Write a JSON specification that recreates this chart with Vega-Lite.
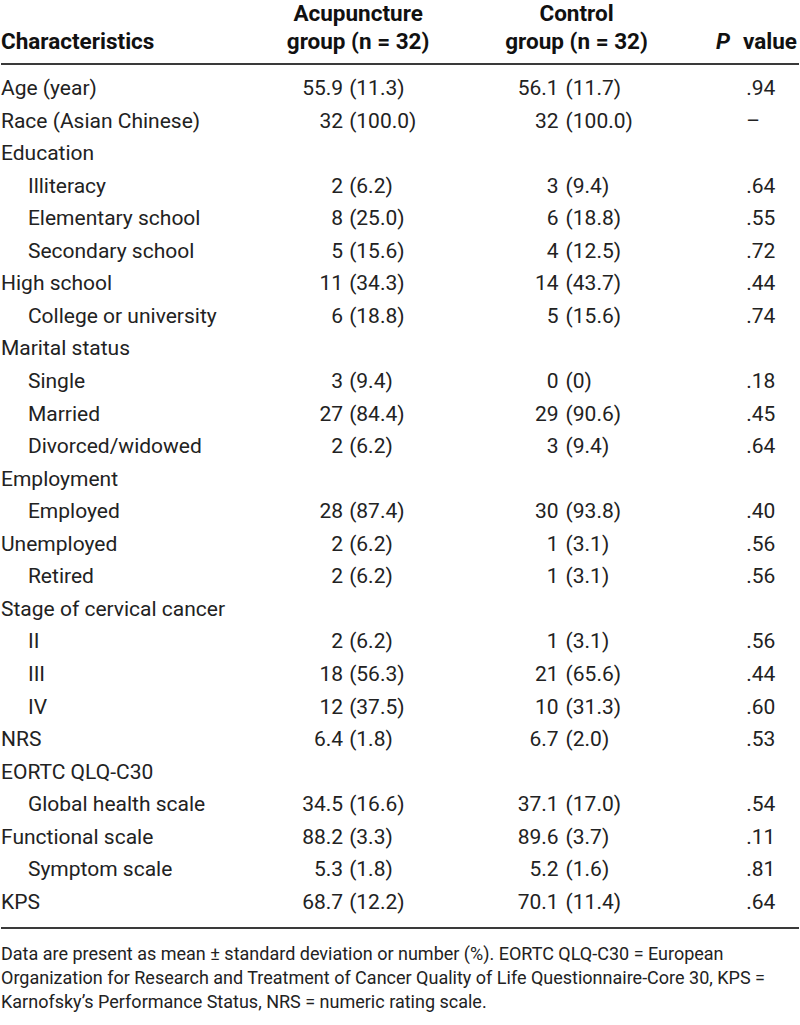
{
  "$schema": "https://vega.github.io/schema/vega-lite/v6.json",
  "width": 800,
  "height": 1025,
  "padding": 0,
  "autosize": {"type": "fit", "contains": "padding"},
  "background": "white",
  "config": {
    "view": {"stroke": null},
    "text": {"font": "Roboto, sans-serif", "fontSize": 21, "baseline": "middle", "color": "#222"}
  },
  "datasets": {
    "rows": [
      {"row": 0, "label": "Age (year)", "level": "main", "a": "55.9", "as": "(11.3)", "c": "56.1", "cs": "(11.7)", "p": ".94"},
      {"row": 1, "label": "Race (Asian Chinese)", "level": "main", "a": "32", "as": "(100.0)", "c": "32", "cs": "(100.0)", "p": "–"},
      {"row": 2, "label": "Education", "level": "main"},
      {"row": 3, "label": "Illiteracy", "level": "sub", "a": "2", "as": "(6.2)", "c": "3", "cs": "(9.4)", "p": ".64"},
      {"row": 4, "label": "Elementary school", "level": "sub", "a": "8", "as": "(25.0)", "c": "6", "cs": "(18.8)", "p": ".55"},
      {"row": 5, "label": "Secondary school", "level": "sub", "a": "5", "as": "(15.6)", "c": "4", "cs": "(12.5)", "p": ".72"},
      {"row": 6, "label": "High school", "level": "main", "a": "11", "as": "(34.3)", "c": "14", "cs": "(43.7)", "p": ".44"},
      {"row": 7, "label": "College or university", "level": "sub", "a": "6", "as": "(18.8)", "c": "5", "cs": "(15.6)", "p": ".74"},
      {"row": 8, "label": "Marital status", "level": "main"},
      {"row": 9, "label": "Single", "level": "sub", "a": "3", "as": "(9.4)", "c": "0", "cs": "(0)", "p": ".18"},
      {"row": 10, "label": "Married", "level": "sub", "a": "27", "as": "(84.4)", "c": "29", "cs": "(90.6)", "p": ".45"},
      {"row": 11, "label": "Divorced/widowed", "level": "sub", "a": "2", "as": "(6.2)", "c": "3", "cs": "(9.4)", "p": ".64"},
      {"row": 12, "label": "Employment", "level": "main"},
      {"row": 13, "label": "Employed", "level": "sub", "a": "28", "as": "(87.4)", "c": "30", "cs": "(93.8)", "p": ".40"},
      {"row": 14, "label": "Unemployed", "level": "main", "a": "2", "as": "(6.2)", "c": "1", "cs": "(3.1)", "p": ".56"},
      {"row": 15, "label": "Retired", "level": "sub", "a": "2", "as": "(6.2)", "c": "1", "cs": "(3.1)", "p": ".56"},
      {"row": 16, "label": "Stage of cervical cancer", "level": "main"},
      {"row": 17, "label": "II", "level": "sub", "a": "2", "as": "(6.2)", "c": "1", "cs": "(3.1)", "p": ".56"},
      {"row": 18, "label": "III", "level": "sub", "a": "18", "as": "(56.3)", "c": "21", "cs": "(65.6)", "p": ".44"},
      {"row": 19, "label": "IV", "level": "sub", "a": "12", "as": "(37.5)", "c": "10", "cs": "(31.3)", "p": ".60"},
      {"row": 20, "label": "NRS", "level": "main", "a": "6.4", "as": "(1.8)", "c": "6.7", "cs": "(2.0)", "p": ".53"},
      {"row": 21, "label": "EORTC QLQ-C30", "level": "main"},
      {"row": 22, "label": "Global health scale", "level": "sub", "a": "34.5", "as": "(16.6)", "c": "37.1", "cs": "(17.0)", "p": ".54"},
      {"row": 23, "label": "Functional scale", "level": "main", "a": "88.2", "as": "(3.3)", "c": "89.6", "cs": "(3.7)", "p": ".11"},
      {"row": 24, "label": "Symptom scale", "level": "sub", "a": "5.3", "as": "(1.8)", "c": "5.2", "cs": "(1.6)", "p": ".81"},
      {"row": 25, "label": "KPS", "level": "main", "a": "68.7", "as": "(12.2)", "c": "70.1", "cs": "(11.4)", "p": ".64"}
    ]
  },
  "data": {"name": "rows"},
  "layer": [
    {
      "data": {"values": [{"pos": -0.768}, {"pos": 25.77}]},
      "mark": {"type": "rule", "strokeWidth": 2, "color": "#3a3a3a"},
      "encoding": {
        "x": {"datum": 0, "type": "quantitative", "scale": {"domain": [0, 800], "nice": false, "zero": false}, "axis": null},
        "x2": {"datum": 800},
        "y": {"field": "pos", "type": "quantitative", "scale": {"domain": [-2.733, 28.75], "reverse": true, "nice": false, "zero": false}, "axis": null}
      }
    },
    {
      "data": {"values": [{"h": "Characteristics"}]},
      "mark": {"type": "text", "align": "left", "fontWeight": "bold", "fontSize": 22.5, "color": "#111"},
      "encoding": {
        "x": {"datum": 0, "type": "quantitative"},
        "y": {"datum": -1.44, "type": "quantitative"},
        "text": {"field": "h"}
      }
    },
    {
      "data": {"values": [{"h": "Acupuncture", "line": -2.3}, {"h": "group (n = 32)", "line": -1.44}]},
      "mark": {"type": "text", "align": "center", "fontWeight": "bold", "fontSize": 22.5, "color": "#111"},
      "encoding": {
        "x": {"datum": 358, "type": "quantitative"},
        "y": {"field": "line", "type": "quantitative"},
        "text": {"field": "h"}
      }
    },
    {
      "data": {"values": [{"h": "Control", "line": -2.3}, {"h": "group (n = 32)", "line": -1.44}]},
      "mark": {"type": "text", "align": "center", "fontWeight": "bold", "fontSize": 22.5, "color": "#111"},
      "encoding": {
        "x": {"datum": 577, "type": "quantitative"},
        "y": {"field": "line", "type": "quantitative"},
        "text": {"field": "h"}
      }
    },
    {
      "data": {"values": [{"h": "value"}]},
      "mark": {"type": "text", "align": "right", "fontWeight": "bold", "fontSize": 22.5, "color": "#111"},
      "encoding": {
        "x": {"datum": 798, "type": "quantitative"},
        "y": {"datum": -1.44, "type": "quantitative"},
        "text": {"field": "h"}
      }
    },
    {
      "data": {"values": [{"h": "P"}]},
      "mark": {"type": "text", "align": "right", "fontWeight": "bold", "fontStyle": "italic", "fontSize": 22.5, "color": "#111"},
      "encoding": {
        "x": {"datum": 731, "type": "quantitative"},
        "y": {"datum": -1.44, "type": "quantitative"},
        "text": {"field": "h"}
      }
    },
    {
      "transform": [{"filter": "datum.level == 'main'"}],
      "mark": {"type": "text", "align": "left"},
      "encoding": {
        "x": {"datum": 0, "type": "quantitative"},
        "y": {"field": "row", "type": "quantitative"},
        "text": {"field": "label"}
      }
    },
    {
      "transform": [{"filter": "datum.level == 'sub'"}],
      "mark": {"type": "text", "align": "left"},
      "encoding": {
        "x": {"datum": 27, "type": "quantitative"},
        "y": {"field": "row", "type": "quantitative"},
        "text": {"field": "label"}
      }
    },
    {
      "transform": [{"filter": "isValid(datum.a)"}],
      "mark": {"type": "text", "align": "right"},
      "encoding": {
        "x": {"datum": 343, "type": "quantitative"},
        "y": {"field": "row", "type": "quantitative"},
        "text": {"field": "a"}
      }
    },
    {
      "transform": [{"filter": "isValid(datum.as)"}],
      "mark": {"type": "text", "align": "left"},
      "encoding": {
        "x": {"datum": 349, "type": "quantitative"},
        "y": {"field": "row", "type": "quantitative"},
        "text": {"field": "as"}
      }
    },
    {
      "transform": [{"filter": "isValid(datum.c)"}],
      "mark": {"type": "text", "align": "right"},
      "encoding": {
        "x": {"datum": 559, "type": "quantitative"},
        "y": {"field": "row", "type": "quantitative"},
        "text": {"field": "c"}
      }
    },
    {
      "transform": [{"filter": "isValid(datum.cs)"}],
      "mark": {"type": "text", "align": "left"},
      "encoding": {
        "x": {"datum": 566, "type": "quantitative"},
        "y": {"field": "row", "type": "quantitative"},
        "text": {"field": "cs"}
      }
    },
    {
      "transform": [{"filter": "isValid(datum.p)"}],
      "mark": {"type": "text", "align": "left"},
      "encoding": {
        "x": {"datum": 747, "type": "quantitative"},
        "y": {"field": "row", "type": "quantitative"},
        "text": {"field": "p"}
      }
    },
    {
      "data": {"values": [
        {"line": 26.6, "t": "Data are present as mean ± standard deviation or number (%). EORTC QLQ-C30 = European"},
        {"line": 27.34, "t": "Organization for Research and Treatment of Cancer Quality of Life Questionnaire-Core 30, KPS ="},
        {"line": 28.08, "t": "Karnofsky’s Performance Status, NRS = numeric rating scale."}
      ]},
      "mark": {"type": "text", "align": "left", "fontSize": 18},
      "encoding": {
        "x": {"datum": 0, "type": "quantitative"},
        "y": {"field": "line", "type": "quantitative"},
        "text": {"field": "t"}
      }
    }
  ]
}
